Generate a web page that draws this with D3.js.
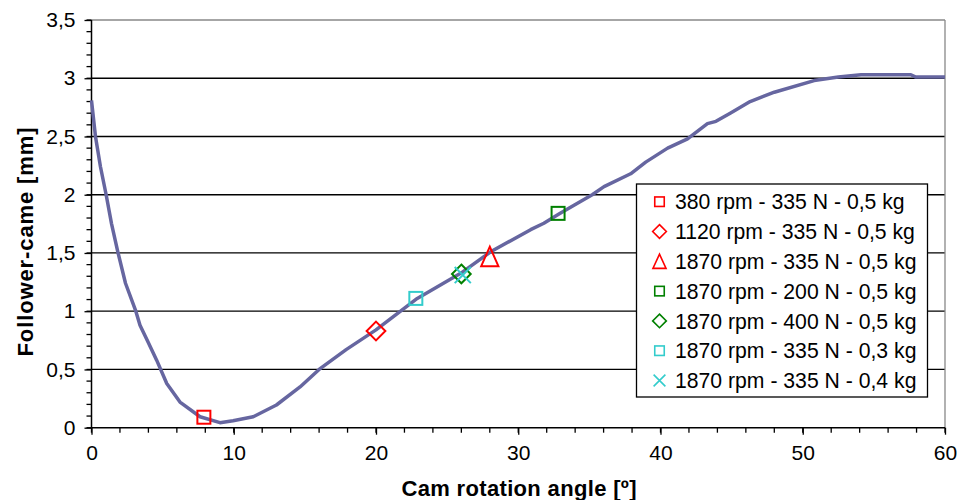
<!DOCTYPE html>
<html><head><meta charset="utf-8">
<script src="https://cdn.jsdelivr.net/npm/d3@7"></script>
<style>body{margin:0;background:#fff}svg text{font-family:Arial,"Liberation Sans",sans-serif}</style>
</head><body><svg id="c" width="957" height="500"></svg>
<script>
// ---- data ----
const curveX = [0,0.28,0.63,1.03,1.41,1.85,2.39,3.09,3.41,4.0,4.58,5.29,6.22,7.63,9.03,9.95,11.37,13.0,14.66,16.0,17.9,20.0,22.9,25.95,28.06,30.87,31.8,32.86,33.92,35.2,36.03,37.9,38.96,40.5,41.9,43.3,43.9,44.9,46.3,48.0,50.8,52.5,54.1,57.6,57.95,60];
const curveY = [2.81,2.50,2.24,2.00,1.75,1.51,1.24,1.01,0.88,0.73,0.58,0.38,0.22,0.094,0.043,0.06,0.094,0.195,0.35,0.50,0.67,0.84,1.11,1.325,1.51,1.70,1.755,1.834,1.91,2.0,2.07,2.18,2.28,2.40,2.48,2.61,2.63,2.70,2.80,2.88,2.98,3.01,3.03,3.03,3.01,3.01];
const seriesNames = ["380 rpm - 335 N - 0,5 kg","1120 rpm - 335 N - 0,5 kg","1870 rpm - 335 N - 0,5 kg","1870 rpm - 200 N - 0,5 kg","1870 rpm - 400 N - 0,5 kg","1870 rpm - 335 N - 0,3 kg","1870 rpm - 335 N - 0,4 kg"];
const seriesX = [7.9,20.0,28.0,32.8,26.0,22.8,26.1];
const seriesY = [0.09,0.83,1.47,1.84,1.32,1.11,1.31];
const seriesShape = ["square","diamond","triangle","square","diamond","square","cross"];
const seriesColor = ["#ff0000","#ff0000","#ff0000","#008000","#008000","#33cccc","#33cccc"];
const xTicks = [0,10,20,30,40,50,60];
const yTicks = [0,0.5,1,1.5,2,2.5,3,3.5];
const yTickLabels = ["0","0,5","1","1,5","2","2,5","3","3,5"];

// ---- layout ----
const L=91.5, R=945, T=20, B=427.7;
const svg = d3.select("#c");
const x = d3.scaleLinear().domain([0,60]).range([L,R]);
const y = d3.scaleLinear().domain([0,3.5]).range([B,T]);

// gridlines
svg.append("g").selectAll("line").data(yTicks.filter(d=>d>0)).join("line")
  .attr("x1",L).attr("x2",R).attr("y1",d=>y(d)).attr("y2",d=>y(d))
  .attr("stroke",d=>d===3.5?"#888":"#000").attr("stroke-width",1.3);
// right border
svg.append("line").attr("x1",R).attr("x2",R).attr("y1",T).attr("y2",B).attr("stroke","#888").attr("stroke-width",1.3);

// y axis
const yAxis = d3.axisLeft(y).tickValues(yTicks).tickSize(7).tickPadding(9).tickFormat((d,i)=>yTickLabels[i]);
const gy = svg.append("g").attr("transform",`translate(${L},0)`).call(yAxis);
const yMinor = d3.range(0,3.5001,0.1);
svg.append("g").selectAll("line").data(yMinor).join("line")
  .attr("x1",L-5).attr("x2",L).attr("y1",d=>y(d)).attr("y2",d=>y(d)).attr("stroke","#000").attr("stroke-width",1.3);

// x axis
const xAxis = d3.axisBottom(x).tickValues(xTicks).tickSize(7).tickPadding(10).tickFormat(d3.format("d"));
const gx = svg.append("g").attr("transform",`translate(0,${B})`).call(xAxis);
const xMinor = d3.range(0,60.001,2);
svg.append("g").selectAll("line").data(xMinor).join("line")
  .attr("x1",d=>x(d)).attr("x2",d=>x(d)).attr("y1",B).attr("y2",B+5).attr("stroke","#000").attr("stroke-width",1.3);

[gx,gy].forEach(g=>{
  g.select(".domain").attr("stroke","#000").attr("stroke-width",1.5);
  g.selectAll(".tick line").attr("stroke","#000").attr("stroke-width",1.3);
  g.selectAll(".tick text").attr("font-size",21).attr("fill","#000").style("font-family","Arial,'Liberation Sans',sans-serif");
});
gy.select(".domain").attr("d",`M0,${T}V${B}`);
gx.select(".domain").attr("d",`M${L},0H${R}`);

// curve
const pts = curveX.map((d,i)=>[d,curveY[i]]);
svg.append("path").datum(pts)
  .attr("d",d3.line().x(d=>x(d[0])).y(d=>y(d[1])))
  .attr("fill","none").attr("stroke","#6666a0").attr("stroke-width",3.5).attr("stroke-linejoin","round");

// marker drawer
function marker(g,shape,color,s,sw){
  if(shape==="square"){
    g.append("rect").attr("x",-s/2).attr("y",-s/2).attr("width",s).attr("height",s)
     .attr("fill","none").attr("stroke",color).attr("stroke-width",sw);
  } else if(shape==="diamond"){
    const h=s*0.72;
    g.append("path").attr("d",`M0,${-h}L${h},0L0,${h}L${-h},0Z`).attr("fill","none").attr("stroke",color).attr("stroke-width",sw);
  } else if(shape==="triangle"){
    const h=s*0.75;
    g.append("path").attr("d",`M0,${-h}L${h*0.78+1},${h}L${-(h*0.78+1)},${h}Z`).attr("fill","none").attr("stroke",color).attr("stroke-width",sw);
  } else if(shape==="cross"){
    const h=s*0.62;
    g.append("path").attr("d",`M${-h},${-h}L${h},${h}M${-h},${h}L${h},${-h}`).attr("stroke",color).attr("stroke-width",sw);
  }
}
seriesX.forEach((d,i)=>{
  const g = svg.append("g").attr("transform",`translate(${x(d)},${y(seriesY[i])})`);
  marker(g,seriesShape[i],seriesColor[i],13,2);
});

// legend
const lg = svg.append("g");
lg.append("rect").attr("x",636.5).attr("y",184).attr("width",291).attr("height",213)
  .attr("fill","#fff").attr("stroke","#000").attr("stroke-width",1.3);
seriesNames.forEach((n,i)=>{
  const cy = 201.7 + i*29.8;
  const g = lg.append("g").attr("transform",`translate(659.5,${cy})`);
  marker(g,seriesShape[i],seriesColor[i],9.5,1.6);
  lg.append("text").attr("x",675).attr("y",cy).attr("dy","0.36em").attr("font-size",21.2).text(n);
});

// axis titles
svg.append("text").attr("x",519).attr("y",496).attr("text-anchor","middle")
  .attr("font-size",22).attr("font-weight","bold").attr("textLength",235).attr("lengthAdjust","spacing").text("Cam rotation angle [º]");
svg.append("text").attr("transform","translate(33,242) rotate(-90)").attr("text-anchor","middle")
  .attr("font-size",22).attr("font-weight","bold").attr("textLength",229).attr("lengthAdjust","spacing").text("Follower-came [mm]");
</script></body></html>
